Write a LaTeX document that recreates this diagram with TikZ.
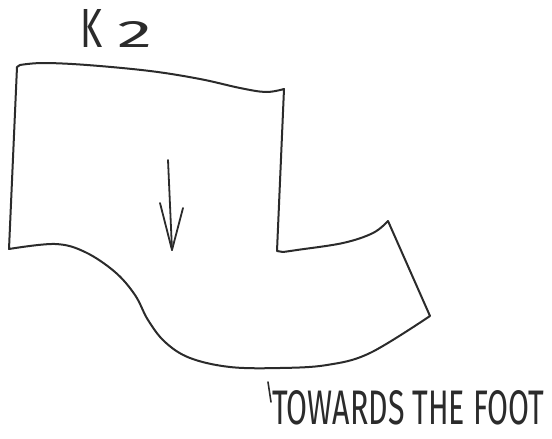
\documentclass[tikz,border=0pt]{standalone}
\usepackage{fontspec}
\newfontfamily\hand{Fira Sans}
\usepackage{graphicx}
\definecolor{ink}{HTML}{2B2B2B}
\begin{document}
\begin{tikzpicture}[x=1pt,y=-1pt,
  inkline/.style={draw=ink,line width=2pt,line cap=round,line join=round},
  label/.style={inner sep=0pt,text=ink,font=\hand}]
\useasboundingbox (0,0) rectangle (552,439);
% outline of the piece
\path[inkline]
  (17,67) -- (20,65)
  -- plot[smooth,tension=0.6] coordinates {(20,65) (43,63) (87,65) (150,71) (200,79) (240,88) (266,92) (284,89)}
  -- (277,251) -- (283,252)
  -- plot[smooth,tension=0.6] coordinates {(283,252) (297,250) (343,243) (373,233) (388,221)}
  -- (430,316)
  -- plot[smooth,tension=0.6] coordinates {(430,316) (370,353) (327,365) (280,368) (230,367) (190,358) (165,342) (148,320) (135,295) (115,272) (85,252) (55,244) (9,249)}
  -- (17,67);
% grain arrow
\coordinate (atop) at (168,160);
\coordinate (atip) at (172,250);
\coordinate (al) at (160,203);
\coordinate (ar) at (183,208);
\draw[inkline,line width=1.8pt] (atop) -- (atip);
\draw[inkline,line width=1.8pt] (al) -- (atip) -- (ar);
% labels
\node[label,anchor=base west] (k2) at (80,47) {\resizebox{22pt}{38pt}{K}\hspace{15pt}\resizebox{35pt}{26pt}{2}};
\node[label,anchor=base west] (foot) at (272,424) {\resizebox{272pt}{34pt}{TOWARDS THE FOOT}};
\coordinate (ticktop) at (268,382);
\coordinate (tickbot) at (271,402);
\draw[inkline,line width=1.6pt] (ticktop) -- (tickbot);
\end{tikzpicture}
\end{document}
